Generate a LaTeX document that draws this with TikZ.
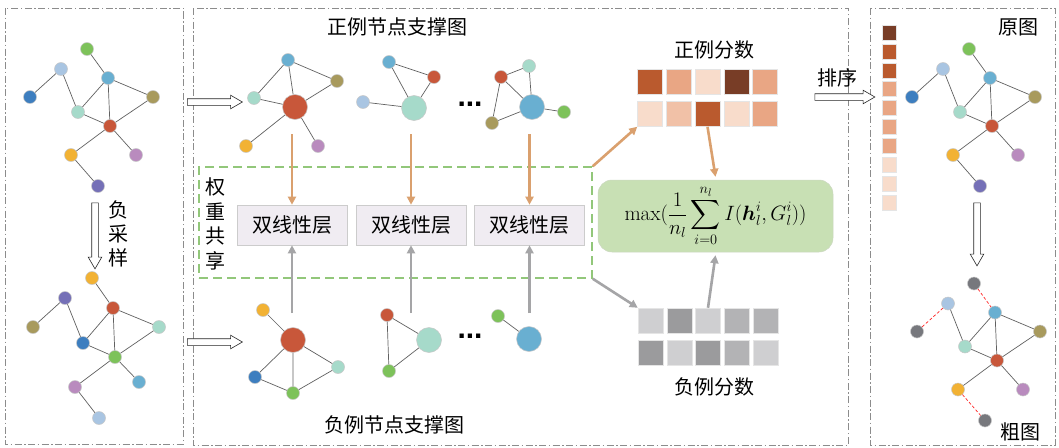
\documentclass[tikz,border=0pt]{standalone}
\usepackage{amsmath}
\usepackage{fontspec}
\usetikzlibrary{shapes.arrows,arrows.meta}
\newfontfamily\song{Noto Sans CJK SC}
\newfontfamily\dotfont{Liberation Sans}

% vertex colours
\definecolor{cgreen}{HTML}{7DC25A}
\definecolor{clblue}{HTML}{A9C5E2}
\definecolor{csky}{HTML}{69AFD1}
\definecolor{cdblue}{HTML}{3D7EBF}
\definecolor{colive}{HTML}{A89A5D}
\definecolor{cmint}{HTML}{A6DACA}
\definecolor{cred}{HTML}{C8573A}
\definecolor{corange}{HTML}{F2B234}
\definecolor{cpurple}{HTML}{B98BBE}
\definecolor{cindigo}{HTML}{7570B7}
\definecolor{cgray}{HTML}{77787D}
% score colours
\definecolor{sA}{HTML}{783D26}
\definecolor{sB}{HTML}{BA5A2E}
\definecolor{sC}{HTML}{E9A684}
\definecolor{sD}{HTML}{F1C1A7}
\definecolor{sE}{HTML}{F8DCCB}
\definecolor{nA}{HTML}{9B9B9D}
\definecolor{nB}{HTML}{B3B3B5}
\definecolor{nC}{HTML}{CFCFD1}
% flows and boxes
\definecolor{flowpos}{HTML}{DAA06E}
\definecolor{flowneg}{HTML}{A5A5A7}
\definecolor{wgreen}{HTML}{92C77A}
\definecolor{layerfill}{HTML}{F0ECF2}
\definecolor{formfill}{HTML}{C8E0B4}

\tikzset{
  panel/.style={draw=black!45, line width=0.7pt, dash pattern=on 7pt off 2.5pt on 1.5pt off 2.5pt},
  v/.style={circle, draw=black!22, line width=0.5pt, inner sep=0pt, minimum size=13pt, fill=#1},
  vb/.style={v=#1, minimum size=25pt},
  e/.style={draw=black!62, line width=0.7pt},
  cut/.style={draw=red!85, line width=0.7pt, dash pattern=on 3pt off 2pt},
  lbl/.style={font=\song\fontsize{20}{24}\selectfont, inner sep=0pt, align=center},
  harrow/.style={single arrow, draw=black!85, fill=white, line width=0.6pt,
    inner xsep=0pt, inner ysep=3pt, single arrow head extend=3.5pt, single arrow tip angle=60},
  layer/.style={draw=black!20, fill=layerfill, line width=0.6pt, minimum width=110pt,
    minimum height=40pt, inner sep=0pt, font=\song\fontsize{20}{24}\selectfont},
  cell/.style={draw=black!10, line width=0.5pt, minimum width=25pt, minimum height=25pt,
    inner sep=0pt, fill=#1},
  bar/.style={cell=#1, minimum width=14.5pt, minimum height=15pt},
  posflow/.style={draw=flowpos, line width=2.6pt, -{Triangle[length=8pt,width=8pt]}},
  negflow/.style={draw=flowneg, line width=2.6pt, -{Triangle[length=8pt,width=8pt]}},
  ellip/.style={font=\dotfont\bfseries\fontsize{30}{30}\selectfont, inner sep=0pt},
}

% the full graph; #2,#3,#4 colour the three outer vertices, #5 styles their edges
\newcommand\basegraph[5]{%
  \node[v=#2] (#1a) at (87,49) {};
  \node[v=clblue] (#1b) at (61,69) {};
  \node[v=csky] (#1c) at (108,78) {};
  \node[v=#3] (#1d) at (30,97) {};
  \node[v=colive] (#1e) at (153,97) {};
  \node[v=cmint] (#1f) at (78,112) {};
  \node[v=cred] (#1g) at (110,126) {};
  \node[v=corange] (#1h) at (71,155) {};
  \node[v=cpurple] (#1i) at (136,155) {};
  \node[v=#4] (#1j) at (98,186) {};
  \draw[e] (#1b) -- (#1f) (#1c) -- (#1f) (#1c) -- (#1g) (#1c) -- (#1e)
           (#1f) -- (#1g) (#1g) -- (#1e) (#1g) -- (#1h) (#1g) -- (#1i);
  \draw[#5] (#1a) -- (#1c) (#1b) -- (#1d) (#1h) -- (#1j);
}

\begin{document}
\begin{tikzpicture}[x=1pt,y=-1pt]
\useasboundingbox[fill=white] (0,0) rectangle (1059,447);

% panels
\draw[panel] (5,8) rectangle (183,444);
\draw[panel] (193,8) rectangle (848,445);
\draw[panel] (870,8) rectangle (1055,445);

% ---- left panel: original graph and its negative sample
\basegraph{lt}{cgreen}{cdblue}{cindigo}{e}

\node[v=corange] (lb1) at (92,278) {};
\node[v=cindigo] (lb2) at (65,298) {};
\node[v=cred] (lb3) at (113,308) {};
\node[v=colive] (lb4) at (33,327) {};
\node[v=cmint] (lb5) at (159,327) {};
\node[v=cdblue] (lb6) at (83,343) {};
\node[v=cgreen] (lb7) at (115,357) {};
\node[v=csky] (lb8) at (139,382) {};
\node[v=cpurple] (lb9) at (75,387) {};
\node[v=clblue] (lb10) at (99,418) {};
\draw[e] (lb1) -- (lb3) (lb2) -- (lb4) (lb2) -- (lb6) (lb3) -- (lb6) (lb3) -- (lb7)
         (lb3) -- (lb5) (lb6) -- (lb7) (lb7) -- (lb5) (lb7) -- (lb8) (lb7) -- (lb9)
         (lb9) -- (lb10);

\node[harrow, minimum height=66pt, rotate=-90] (ha4) at (95,233) {};
\node[lbl] (tsample) at (118,234) {负\\采\\样};

% ---- hollow arrows into the middle panel
\node[harrow, minimum height=55pt] (ha1) at (212,102) {};
\node[harrow, minimum height=55pt] (ha2) at (212,342) {};

% ---- positive support graphs
\node[lbl] (tpos) at (397,27) {正例节点支撑图};

\node[v=csky] (pa1) at (288,60) {};
\node[v=colive] (pa2) at (337,81) {};
\node[v=cmint] (pa3) at (254,98) {};
\node[vb=cred] (pa4) at (295,107) {};
\node[v=corange] (pa5) at (246,146) {};
\node[v=cpurple] (pa6) at (318,146) {};
\draw[e] (pa1) -- (pa3) (pa1) -- (pa4) (pa1) -- (pa2) (pa3) -- (pa4) (pa4) -- (pa2)
         (pa4) -- (pa5) (pa4) -- (pa6);

\node[v=csky] (pb1) at (389,62) {};
\node[v=cred] (pb2) at (434,77) {};
\node[v=clblue] (pb3) at (363,102) {};
\node[vb=cmint] (pb4) at (414,108) {};
\draw[e] (pb1) -- (pb2) (pb1) -- (pb4) (pb2) -- (pb4) (pb3) -- (pb4);

\node[ellip] (pdots) at (470,104) {...};

\node[v=cmint] (pc1) at (529,66) {};
\node[v=cred] (pc2) at (501,77) {};
\node[vb=csky] (pc3) at (532,107) {};
\node[v=cgreen] (pc4) at (564,112) {};
\node[v=colive] (pc5) at (492,123) {};
\draw[e] (pc2) -- (pc1) (pc1) -- (pc3) (pc2) -- (pc3) (pc2) -- (pc5) (pc5) -- (pc3)
         (pc3) -- (pc4);

% ---- negative support graphs
\node[lbl] (tneg) at (394,425) {负例节点支撑图};

\node[v=corange] (na1) at (263,310) {};
\node[vb=cred] (na2) at (293,340) {};
\node[v=cmint] (na3) at (338,367) {};
\node[v=cdblue] (na4) at (255,377) {};
\node[v=cgreen] (na5) at (293,393) {};
\draw[e] (na1) -- (na2) (na2) -- (na4) (na2) -- (na5) (na2) -- (na3) (na4) -- (na5)
         (na5) -- (na3);

\node[v=cred] (nb1) at (387,315) {};
\node[vb=cmint] (nb2) at (429,340) {};
\node[v=cgreen] (nb3) at (389,371) {};
\draw[e] (nb1) -- (nb2) (nb1) -- (nb3) (nb3) -- (nb2);

\node[ellip] (ndots) at (470,336) {...};

\node[v=cgreen] (nc1) at (498,316) {};
\node[vb=csky] (nc2) at (529,339) {};
\draw[e] (nc1) -- (nc2);

% ---- shared bilinear layers
\node[draw=wgreen, line width=1.5pt, dash pattern=on 9pt off 5pt, minimum width=393pt,
      minimum height=111pt, inner sep=0pt] (wbox) at (395.5,222.5) {};
\node[lbl, font=\song\fontsize{20}{24.5}\selectfont] (tshare) at (215,224) {权\\重\\共\\享};

\node[layer] (L1) at (292,225) {双线性层};
\node[layer] (L2) at (411,225) {双线性层};
\node[layer] (L3) at (529.5,225) {双线性层};

\coordinate (pt1) at (292,134);
\coordinate (pt2) at (411,134);
\coordinate (pt3) at (529.5,134);
\coordinate (nt1) at (292,313);
\coordinate (nt2) at (411,313);
\coordinate (nt3) at (529.5,313);
\draw[posflow] (pt1) -- (L1.north);
\draw[posflow] (pt2) -- (L2.north);
\draw[posflow] (pt3) -- (L3.north);
\draw[negflow] (nt1) -- (L1.south);
\draw[negflow] (nt2) -- (L2.south);
\draw[negflow] (nt3) -- (L3.south);

% ---- scores
\node[lbl] (tps) at (714,50) {正例分数};
\node[cell=sB] (p11) at (650,81.5) {};
\node[cell=sC] (p12) at (678.75,81.5) {};
\node[cell=sE] (p13) at (707.5,81.5) {};
\node[cell=sA] (p14) at (736.25,81.5) {};
\node[cell=sC] (p15) at (765,81.5) {};
\node[cell=sE] (p21) at (650,114) {};
\node[cell=sD] (p22) at (678.75,114) {};
\node[cell=sB] (p23) at (707.5,114) {};
\node[cell=sE] (p24) at (736.25,114) {};
\node[cell=sC] (p25) at (765,114) {};

\node[lbl] (tns) at (714,387) {负例分数};
\node[cell=nC] (n11) at (650.5,320.5) {};
\node[cell=nA] (n12) at (679.25,320.5) {};
\node[cell=nC] (n13) at (708,320.5) {};
\node[cell=nB] (n14) at (736.75,320.5) {};
\node[cell=nB] (n15) at (765.5,320.5) {};
\node[cell=nA] (n21) at (650.5,352.5) {};
\node[cell=nC] (n22) at (679.25,352.5) {};
\node[cell=nA] (n23) at (708,352.5) {};
\node[cell=nB] (n24) at (736.75,352.5) {};
\node[cell=nC] (n25) at (765.5,352.5) {};

\node[draw=formfill!85!black!60, fill=formfill, rounded corners=14pt, line width=0.5pt,
      minimum width=235pt, minimum height=72pt, inner sep=0pt,
      font=\fontsize{21}{25}\selectfont] (form) at (715.5,216)
  {$\displaystyle \max(\frac{1}{n_l}\sum_{i=0}^{n_l} I(\boldsymbol{h}_l^i,G_l^i))$};

\draw[posflow] (wbox.north east) -- (p21.south west);
\draw[negflow] (wbox.south east) -- (n11.north west);
\draw[posflow] (p23.south) -- ([yshift=3pt]form.north);
\draw[negflow] (n13.north) -- ([yshift=-3pt]form.south);

% ---- sorting
\node[harrow, minimum height=60pt] (ha3) at (842,97) {};
\node[lbl] (tsort) at (837,78) {排序};

% ---- right panel: ranked scores, original and coarsened graph
\node[bar=sA] (r1) at (889,32.5) {};
\node[bar=sB] (r2) at (889,51.4) {};
\node[bar=sB] (r3) at (889,70.3) {};
\node[bar=sC] (r4) at (889,89.2) {};
\node[bar=sC] (r5) at (889,108.1) {};
\node[bar=sC] (r6) at (889,127) {};
\node[bar=sC] (r7) at (889,145.9) {};
\node[bar=sE] (r8) at (889,164.8) {};
\node[bar=sE] (r9) at (889,183.7) {};
\node[bar=sE] (r10) at (889,202.6) {};

\node[lbl] (torig) at (1018,27) {原图};
\begin{scope}[shift={(882,0)}]
  \basegraph{rt}{cgreen}{cdblue}{cindigo}{e}
\end{scope}

\node[harrow, minimum height=63pt, rotate=-90] (ha5) at (977,231.5) {};

\begin{scope}[shift={(887,234.5)}]
  \basegraph{rc}{cgray}{cgray}{cgray}{cut}
\end{scope}
\node[lbl] (tcoarse) at (1020,432) {粗图};

\end{tikzpicture}
\end{document}
